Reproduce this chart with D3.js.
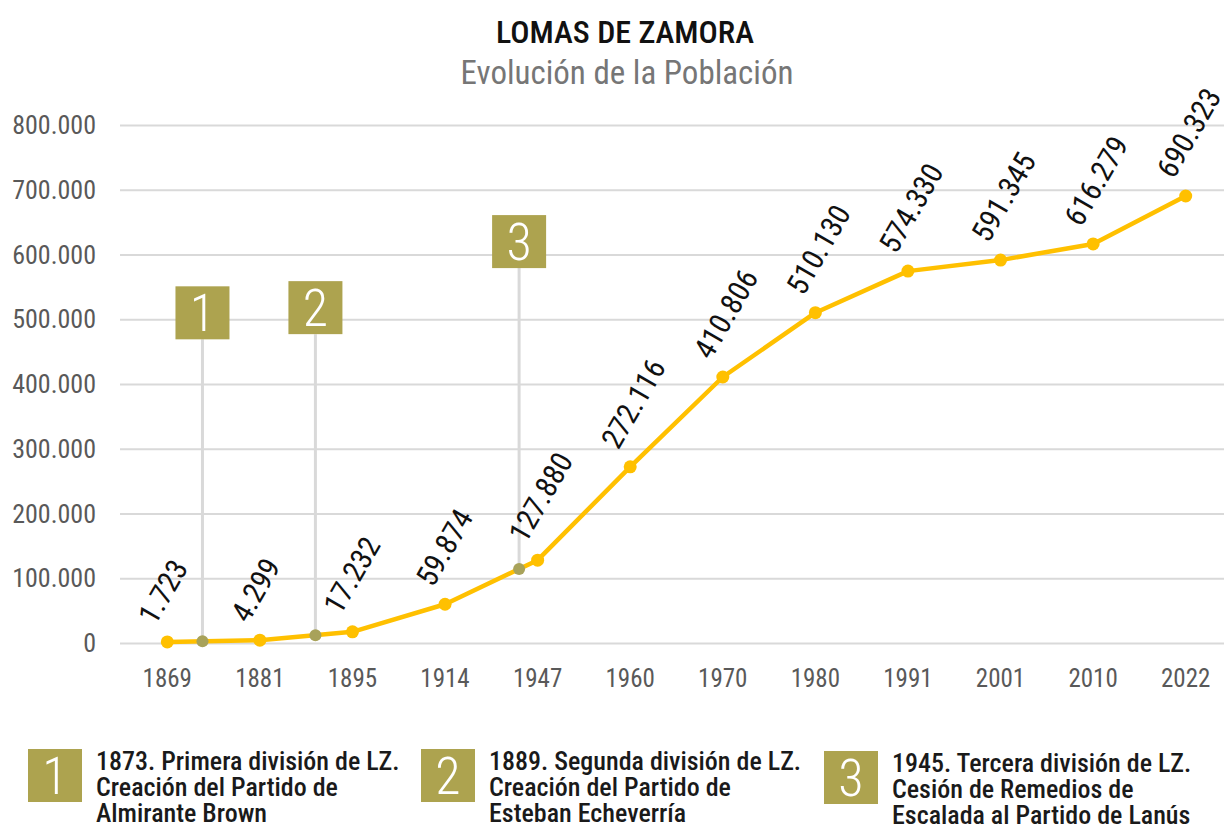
<!DOCTYPE html>
<html>
<head>
<meta charset="utf-8">
<script src="https://cdn.jsdelivr.net/npm/d3@7"></script>
<style>
  body { margin: 0; background: #fff; }
  text { font-family: "Roboto Condensed", Roboto, "Liberation Sans", sans-serif; }
</style>
</head>
<body>
<div id="chart"></div>
<script>
// Data
var years = ["1869", "1881", "1895", "1914", "1947", "1960", "1970", "1980", "1991", "2001", "2010", "2022"];
var population = [1723, 4299, 17232, 59874, 127880, 272116, 410806, 510130, 574330, 591345, 616279, 690323];
var yTicks = [0, 100000, 200000, 300000, 400000, 500000, 600000, 700000, 800000];

// milestones (position given as fractional index along the category axis)
var milestoneNums = ["1", "2", "3"];
var milestonePos = [0.38, 1.6, 3.8];
var milestoneBoxBottom = [469000, 477000, 579000];
var legendLines = [
  ["1873. Primera división de LZ.", "Creación del Partido de", "Almirante Brown"],
  ["1889. Segunda división de LZ.", "Creación del Partido de", "Esteban Echeverría"],
  ["1945. Tercera división de LZ.", "Cesión de Remedios de", "Escalada al Partido de Lanús"]
];

var svgWidth = 1224;
var svgHeight = 829;

var svg = d3.select("#chart")
  .append("svg")
  .attr("width", svgWidth)
  .attr("height", svgHeight);

var x = d3.scalePoint()
  .domain(years)
  .range([121, 1232])
  .padding(0.5);

var y = d3.scaleLinear()
  .domain([0, 800000])
  .range([643, 125]);

var locale = d3.formatLocale({ decimal: ",", thousands: ".", grouping: [3], currency: ["", ""] });
var fmt = locale.format(",");

// fractional index -> x / value
function xAt(p) {
  var i = Math.floor(p), f = p - i;
  return x(years[i]) + f * x.step();
}
function valAt(p) {
  var i = Math.floor(p), f = p - i;
  return population[i] + f * (population[i + 1] - population[i]);
}

// Title
svg.append("text")
  .attr("x", 625).attr("y", 43)
  .attr("text-anchor", "middle")
  .attr("font-size", 32)
  .attr("font-weight", 500)
  .attr("fill", "#111")
  .text("LOMAS DE ZAMORA");

svg.append("text")
  .attr("x", 627).attr("y", 84)
  .attr("text-anchor", "middle")
  .attr("font-size", 33)
  .attr("fill", "#767676")
  .text("Evolución de la Población");

// y grid + labels
var yAxis = d3.axisLeft(y)
  .tickValues(yTicks)
  .tickSize(-(svgWidth - 120))
  .tickFormat("");

var gy = svg.append("g")
  .attr("transform", "translate(120,0)")
  .call(yAxis);
gy.select(".domain").remove();
gy.selectAll(".tick line").attr("stroke", "#d9d9d9").attr("stroke-width", 2);

yTicks.forEach(function(t) {
  svg.append("text")
    .attr("x", 96).attr("y", y(t) + 9)
    .attr("text-anchor", "end")
    .attr("font-size", 26)
    .attr("fill", "#595959")
    .text(fmt(t));
});

// x labels
years.forEach(function(yr) {
  svg.append("text")
    .attr("x", x(yr)).attr("y", 687)
    .attr("text-anchor", "middle")
    .attr("font-size", 25)
    .attr("fill", "#595959")
    .text(yr);
});

// milestone vertical lines and boxes
milestoneNums.forEach(function(n, i) {
  var mx = xAt(milestonePos[i]);
  var my = y(valAt(milestonePos[i]));
  var by = y(milestoneBoxBottom[i]);
  svg.append("line")
    .attr("x1", mx).attr("x2", mx)
    .attr("y1", by).attr("y2", my)
    .attr("stroke", "#d9d9d9")
    .attr("stroke-width", 3);
  svg.append("rect")
    .attr("x", mx - 27).attr("y", by - 53)
    .attr("width", 54).attr("height", 53)
    .attr("fill", "#ada34f");
  svg.append("text")
    .attr("x", mx).attr("y", by - 8)
    .attr("text-anchor", "middle")
    .attr("font-size", 52)
    .attr("font-weight", 300)
    .attr("fill", "#fff")
    .text(n);
});

// line
var line = d3.line()
  .x(function(d, i) { return x(years[i]); })
  .y(function(d) { return y(d); });

svg.append("path")
  .datum(population)
  .attr("d", line)
  .attr("fill", "none")
  .attr("stroke", "#ffc000")
  .attr("stroke-width", 4.5)
  .attr("stroke-linejoin", "round");

svg.selectAll(".dot")
  .data(population)
  .enter()
  .append("circle")
  .attr("class", "dot")
  .attr("cx", function(d, i) { return x(years[i]); })
  .attr("cy", function(d) { return y(d); })
  .attr("r", 6.5)
  .attr("fill", "#ffc000");

// milestone points on the line
milestonePos.forEach(function(p) {
  svg.append("circle")
    .attr("cx", xAt(p))
    .attr("cy", y(valAt(p)))
    .attr("r", 6)
    .attr("fill", "#a8a25a");
});

// value labels, rotated
population.forEach(function(v, i) {
  svg.append("text")
    .attr("transform", `translate(${x(years[i]) - 12},${y(v) - 16}) rotate(-60)`)
    .attr("text-anchor", "start")
    .attr("font-size", 30)
    .attr("fill", "#111")
    .text(fmt(v));
});

// legend
var legendX = [28, 421, 824];
var legendY = [749, 749, 751];
milestoneNums.forEach(function(n, i) {
  svg.append("rect")
    .attr("x", legendX[i]).attr("y", legendY[i])
    .attr("width", 54).attr("height", 53)
    .attr("fill", "#ada34f");
  svg.append("text")
    .attr("x", legendX[i] + 27).attr("y", legendY[i] + 45)
    .attr("text-anchor", "middle")
    .attr("font-size", 52)
    .attr("font-weight", 300)
    .attr("fill", "#fff")
    .text(n);
  legendLines[i].forEach(function(t, j) {
    svg.append("text")
      .attr("x", legendX[i] + 68).attr("y", legendY[i] + 21 + j * 26)
      .attr("text-anchor", "start")
      .attr("font-size", 26)
      .attr("font-weight", 500)
      .attr("fill", "#1a1a1a")
      .text(t);
  });
});
</script>
</body>
</html>
